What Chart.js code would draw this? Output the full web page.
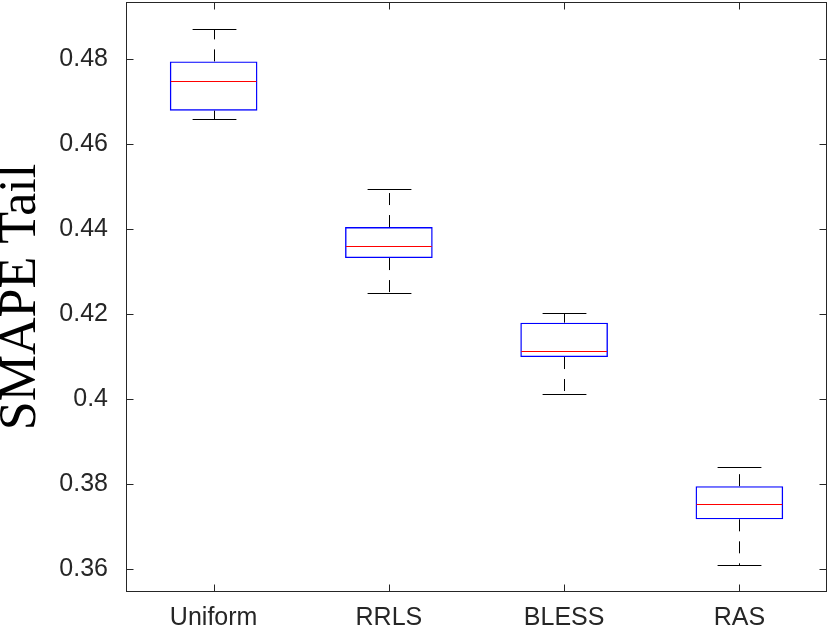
<!DOCTYPE html>
<html>
<head>
<meta charset="utf-8">
<script src="https://cdn.jsdelivr.net/npm/chart.js@4"></script>
<style>
  html, body { margin: 0; padding: 0; background: #fff; }
  #wrap { width: 830px; height: 628px; }
</style>
</head>
<body>
<div id="wrap"><canvas id="chart"></canvas></div>
<script>
// values
const categories = ['Uniform', 'RRLS', 'BLESS', 'RAS'];
const whiskerLow = [0.4659, 0.4250, 0.4012, 0.3609];
const q1 = [0.4679, 0.4332, 0.4099, 0.3717];
const median = [0.4749, 0.4360, 0.4113, 0.3752];
const q3 = [0.4795, 0.4405, 0.4180, 0.3795];
const whiskerHigh = [0.4871, 0.4494, 0.4202, 0.3840];

const yTicks = [0.36, 0.38, 0.40, 0.42, 0.44, 0.46, 0.48];
const yTickLabels = ['0.36', '0.38', '0.4', '0.42', '0.44', '0.46', '0.48'];

const axisColor = '#262626';
const tickLen = 7;

function line(ctx, x1, y1, x2, y2) {
  ctx.beginPath();
  ctx.moveTo(x1, y1);
  ctx.lineTo(x2, y2);
  ctx.stroke();
}

// whiskers, caps, medians and the matlab style axes box
const boxPlot = {
  id: 'boxPlot',
  afterDatasetsDraw(chart) {
    const { ctx, chartArea: a, scales: { x, y } } = chart;
    const meta = chart.getDatasetMeta(0);
    ctx.save();
    ctx.lineWidth = 1;
    categories.forEach((c, i) => {
      const bar = meta.data[i];
      const cx = Math.round(bar.x) + 0.5;
      const half = bar.width / 2;
      const cap = half / 2;

      ctx.strokeStyle = '#000';
      ctx.setLineDash([12, 10]);
      line(ctx, cx, y.getPixelForValue(q3[i]), cx, y.getPixelForValue(whiskerHigh[i]));
      line(ctx, cx, y.getPixelForValue(q1[i]), cx, y.getPixelForValue(whiskerLow[i]));
      ctx.setLineDash([]);

      const yh = Math.round(y.getPixelForValue(whiskerHigh[i])) + 0.5;
      const yl = Math.round(y.getPixelForValue(whiskerLow[i])) + 0.5;
      line(ctx, cx - cap, yh, cx + cap, yh);
      line(ctx, cx - cap, yl, cx + cap, yl);

      ctx.strokeStyle = '#ff0000';
      const ym = Math.round(y.getPixelForValue(median[i])) + 0.5;
      line(ctx, bar.x - half + 1, ym, bar.x + half - 1, ym);
    });

    ctx.strokeStyle = axisColor;
    const l = Math.round(a.left) + 0.5, r = Math.round(a.right) - 0.5;
    const t = Math.round(a.top) + 0.5, b = Math.round(a.bottom) - 0.5;
    ctx.strokeRect(l, t, r - l, b - t);
    yTicks.forEach(v => {
      const py = Math.round(y.getPixelForValue(v)) + 0.5;
      line(ctx, l, py, l + tickLen, py);
      line(ctx, r, py, r - tickLen, py);
    });
    categories.forEach((c, i) => {
      const px = Math.round(x.getPixelForValue(i)) + 0.5;
      line(ctx, px, b, px, b - tickLen);
      line(ctx, px, t, px, t + tickLen);
    });
    ctx.restore();
  }
};

const boxes = categories.map((c, i) => [q1[i], q3[i]]);

new Chart(document.getElementById('chart'), {
  type: 'bar',
  data: {
    labels: categories,
    datasets: [{
      data: boxes,
      backgroundColor: 'rgba(0,0,0,0)',
      borderColor: '#0000ff',
      borderWidth: 1.4,
      borderSkipped: false,
      barPercentage: 0.5,
      categoryPercentage: 1
    }]
  },
  options: {
    responsive: true,
    maintainAspectRatio: false,
    animation: false,
    layout: { padding: { top: 2, right: 3, left: 0, bottom: 0 } },
    plugins: {
      legend: { display: false },
      tooltip: { enabled: false }
    },
    scales: {
      x: {
        grid: { display: false, drawTicks: false },
        border: { display: false },
        ticks: {
          color: axisColor,
          padding: 11,
          font: { family: '"Liberation Sans", Arial, sans-serif', size: 25 }
        },
        afterFit(scale) {
          scale.height = 36;
          scale.paddingLeft = 0;
          scale.paddingRight = 0;
        }
      },
      y: {
        min: 0.35459,
        max: 0.49348,
        grid: { display: false, drawTicks: false },
        border: { display: false },
        afterBuildTicks(scale) {
          scale.ticks = yTicks.map(v => ({ value: v }));
        },
        ticks: {
          color: axisColor,
          padding: 18,
          font: { family: '"Liberation Sans", Arial, sans-serif', size: 25 },
          callback: (v, i) => yTickLabels[i]
        },
        title: {
          display: true,
          text: 'SMAPE Tail',
          color: '#000',
          padding: 0,
          font: { family: '"Liberation Serif", "DejaVu Serif", serif', size: 52, lineHeight: 0.82 }
        },
        afterFit(scale) {
          scale.width = 126;
          scale.paddingTop = 0;
          scale.paddingBottom = 0;
        }
      }
    }
  },
  plugins: [boxPlot]
});
</script>
</body>
</html>
